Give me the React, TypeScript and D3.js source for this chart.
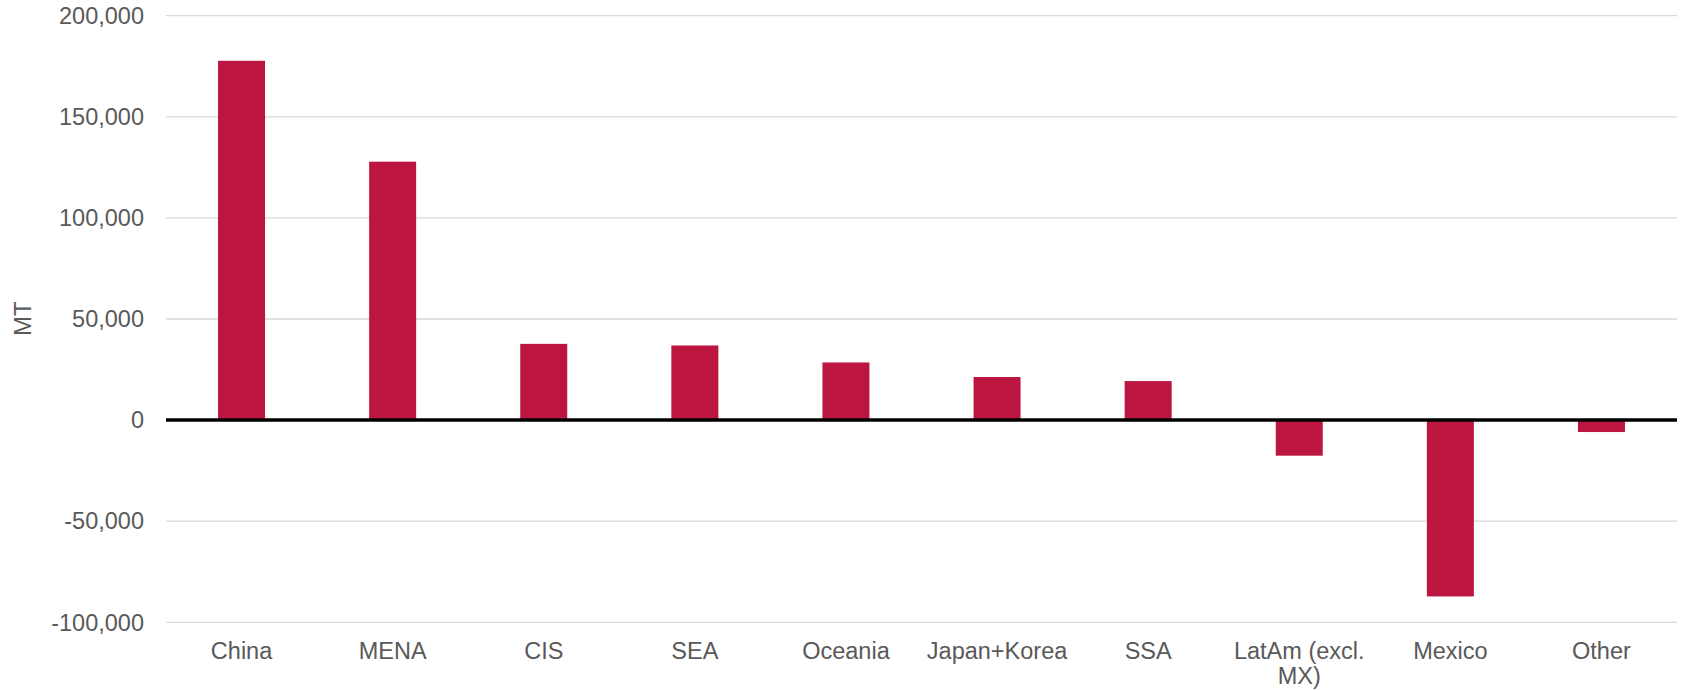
import React, { useEffect, useRef } from "react";
import * as d3 from "d3";

const categories: string[] = [
  "China",
  "MENA",
  "CIS",
  "SEA",
  "Oceania",
  "Japan+Korea",
  "SSA",
  "LatAm (excl. MX)",
  "Mexico",
  "Other",
];
const values: number[] = [177700, 127800, 37700, 36900, 28500, 21300, 19300, -17600, -87200, -5900];
const yTicks: number[] = [-100000, -50000, 0, 50000, 100000, 150000, 200000];
const yLabel = "MT";

const W = 1681;
const H = 690;
const FONT = "'Liberation Sans', Arial, sans-serif";
const TEXT = "#595959";
const BAR = "#BC1540";

export default function App() {
  const ref = useRef<SVGSVGElement | null>(null);

  useEffect(() => {
    const svg = d3.select(ref.current);
    svg.selectAll("*").remove();

    const left = 166;
    const right = 1677;
    const top = 15.7;
    const bottom = 622.3;

    const x = d3
      .scaleBand<string>()
      .domain(categories)
      .range([left, right])
      .paddingInner(0.689)
      .paddingOuter(0.3445);
    const y = d3.scaleLinear().domain([-100000, 200000]).range([bottom, top]);
    const fmt0 = d3.format(",");
    const fmt = (v: number) => fmt0(v).replace("\u2212", "-");

    // gridlines
    svg
      .append("g")
      .selectAll("line")
      .data(yTicks.filter((t) => t !== 0))
      .join("line")
      .attr("x1", left)
      .attr("x2", right)
      .attr("y1", (d) => y(d))
      .attr("y2", (d) => y(d))
      .attr("stroke", "#d9d9d9")
      .attr("stroke-width", 1.3);

    // y tick labels
    svg
      .append("g")
      .selectAll("text")
      .data(yTicks)
      .join("text")
      .attr("x", 144)
      .attr("y", (d) => y(d))
      .attr("dy", "0.35em")
      .attr("text-anchor", "end")
      .attr("font-family", FONT)
      .attr("font-size", 23.5)
      .attr("fill", TEXT)
      .text((d) => fmt(d));

    // bars
    svg
      .append("g")
      .selectAll("rect")
      .data(categories.map((c, i) => ({ c, v: values[i] })))
      .join("rect")
      .attr("x", (d) => x(d.c) as number)
      .attr("width", x.bandwidth())
      .attr("y", (d) => y(Math.max(0, d.v)))
      .attr("height", (d) => Math.abs(y(d.v) - y(0)))
      .attr("fill", BAR);

    // zero line
    svg
      .append("line")
      .attr("x1", left)
      .attr("x2", right)
      .attr("y1", y(0))
      .attr("y2", y(0))
      .attr("stroke", "#000")
      .attr("stroke-width", 3.5);

    // x labels with wrapping
    const xl = svg
      .append("g")
      .selectAll("text")
      .data(categories)
      .join("text")
      .attr("x", (d) => (x(d) as number) + x.bandwidth() / 2)
      .attr("y", 658.5)
      .attr("text-anchor", "middle")
      .attr("font-family", FONT)
      .attr("font-size", 23.5)
      .attr("fill", TEXT);

    const maxW = x.step() - 8;
    xl.each(function (d) {
      const text = d3.select(this);
      const words = d.split(/\s+/);
      const cx = text.attr("x");
      let line: string[] = [];
      let tspan = text.append("tspan").attr("x", cx).attr("dy", 0);
      for (const w of words) {
        line.push(w);
        tspan.text(line.join(" "));
        const node = tspan.node() as SVGTSpanElement;
        if (node.getComputedTextLength() > maxW && line.length > 1) {
          line.pop();
          tspan.text(line.join(" "));
          line = [w];
          tspan = text.append("tspan").attr("x", cx).attr("dy", 25.5).text(w);
        }
      }
    });

    // y axis title
    svg
      .append("text")
      .attr("transform", `translate(30.5,318.7) rotate(-90)`)
      .attr("text-anchor", "middle")
      .attr("font-family", FONT)
      .attr("font-size", 24)
      .attr("fill", TEXT)
      .text(yLabel);
  }, []);

  return (
    <svg
      ref={ref}
      width={W}
      height={H}
      style={{ position: "absolute", left: 0, top: 0, background: "#fff" }}
    />
  );
}
